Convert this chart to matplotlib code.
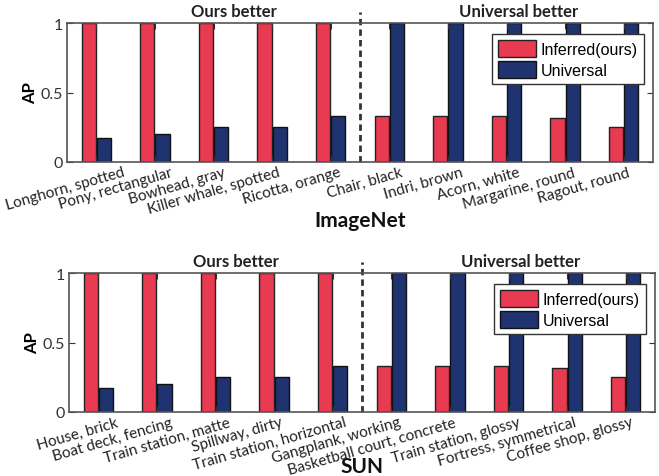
import numpy as np
import matplotlib.pyplot as plt
import matplotlib.transforms as mtransforms

imagenet_labels = ["Longhorn, spotted", "Pony, rectangular", "Bowhead, gray",
                   "Killer whale, spotted", "Ricotta, orange", "Chair, black",
                   "Indri, brown", "Acorn, white", "Margarine, round", "Ragout, round"]
imagenet_ours = [1, 1, 1, 1, 1, 0.33, 0.33, 0.33, 0.32, 0.25]
imagenet_univ = [0.17, 0.20, 0.25, 0.25, 0.33, 1, 1, 1, 1, 1]

sun_labels = ["House, brick", "Boat deck, fencing", "Train station, matte",
              "Spillway, dirty", "Train station, horizontal", "Gangplank, working",
              "Basketball court, concrete", "Train station, glossy",
              "Fortress, symmetrical", "Coffee shop, glossy"]
sun_ours = [1, 1, 1, 1, 1, 0.33, 0.33, 0.33, 0.32, 0.25]
sun_univ = [0.17, 0.20, 0.25, 0.25, 0.33, 1, 1, 1, 1, 1]

# pixel nudges of the rotated tick labels (how the original figure placed them)
imagenet_dx = [26, 15, 10, 6, 8, 11, 13, 11, 8, 4]
sun_dx = [17, 13, 12, 6, 11, 7, 4, 9, 7, 5]

red = "#e83a50"
navy = "#1f3370"
tick_font = "Lato"


def panel(fig, ax, labels, ours, univ, dx, name, title_y):
    x = np.arange(1, len(labels) + 1)
    w = 0.24
    ax.bar(x - 0.13, ours, w, color=red, edgecolor="#222222", linewidth=1.0,
           label="Inferred(ours)")
    ax.bar(x + 0.13, univ, w, color=navy, edgecolor="#111111", linewidth=1.0,
           label="Universal")
    ax.set_xlim(0.5, 10.5)
    ax.set_ylim(0, 1)
    ax.set_yticks([0, 0.5, 1])
    ax.set_yticklabels(["0", "0.5", "1"], family=tick_font, fontsize=11.5, color="#333333")
    ax.set_xticks(x)
    ax.set_xticklabels([])
    for xi, lab, d in zip(x, labels, dx):
        tr = ax.get_xaxis_transform() + mtransforms.ScaledTranslation(
            d / 100, -3 / 100, fig.dpi_scale_trans)
        ax.text(xi, 0, lab, transform=tr, rotation=16, ha="right", va="top",
                rotation_mode="anchor", family=tick_font, fontsize=11,
                color="#222222")
    ax.tick_params(axis="both", direction="in", length=4, top=True, right=True,
                   color="#333333", pad=3)
    for s in ax.spines.values():
        s.set_color("#555555")
        s.set_linewidth(1.2)
    ax.set_ylabel("AP", family=tick_font, fontweight="bold", fontsize=12, labelpad=2)
    ax.axvline(5.5, ymin=0, ymax=1.08, color="#333333", linestyle=(0, (2.3, 1.5)),
               linewidth=2.0, clip_on=False)
    ax.text(3.35, 1.03, "Ours better", ha="center", va="bottom", family=tick_font,
            fontweight="bold", fontsize=12, color="#222222")
    ax.text(8.2, 1.03, "Universal better", ha="center", va="bottom", family=tick_font,
            fontweight="bold", fontsize=12, color="#222222")
    ax.text(0.5, title_y, name, transform=ax.transAxes, ha="center", va="center",
            family=tick_font, fontweight="bold", fontsize=15, color="#111111")
    leg = ax.legend(loc="upper right", bbox_to_anchor=(0.992, 0.955),
                    prop={"family": "Liberation Sans", "size": 11.5},
                    fancybox=False, framealpha=1, edgecolor="#333333",
                    handlelength=2.4, handleheight=1.3, handletextpad=0.3,
                    borderpad=0.35, labelspacing=0.25, borderaxespad=0.3)
    leg.get_frame().set_linewidth(1.0)


fig = plt.figure(figsize=(6.59, 4.77), dpi=100)
ax1 = fig.add_axes([67 / 659, 1 - 163 / 477, 586 / 659, 139 / 477])
ax2 = fig.add_axes([69 / 659, 1 - 413 / 477, 586 / 659, 139 / 477])

panel(fig, ax1, imagenet_labels, imagenet_ours, imagenet_univ, imagenet_dx,
      "ImageNet", -0.42)
panel(fig, ax2, sun_labels, sun_ours, sun_univ, sun_dx, "SUN", -0.39)

fig.savefig("out.png", dpi=100)
